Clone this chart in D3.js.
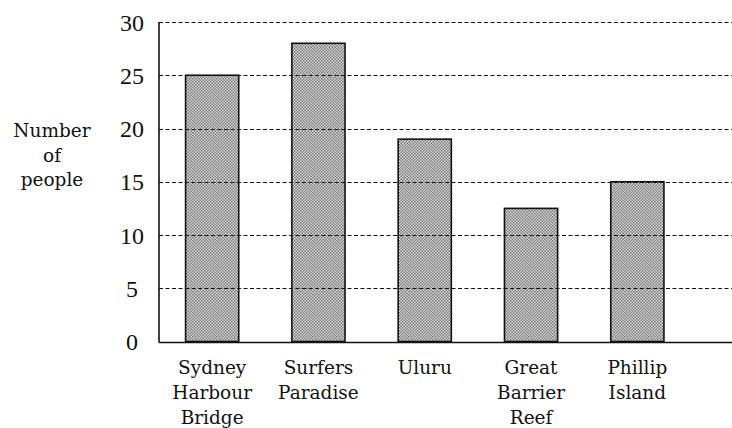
<!DOCTYPE html>
<html>
<head>
<meta charset="utf-8">
<script src="https://cdn.jsdelivr.net/npm/d3@7"></script>
<style>
  body { margin: 0; background: #fff; }
  svg { display: block; }
  .serif { font-family: "DejaVu Serif", "Liberation Serif", serif; }
  .tick-serif { font-family: "Liberation Serif", "DejaVu Serif", serif; }
</style>
</head>
<body>
<svg id="chart"></svg>
<script>
// values
var places = ["Sydney Harbour Bridge", "Surfers Paradise", "Uluru", "Great Barrier Reef", "Phillip Island"];
var placeLines = [["Sydney", "Harbour", "Bridge"], ["Surfers", "Paradise"], ["Uluru"], ["Great", "Barrier", "Reef"], ["Phillip", "Island"]];
var people = [25, 28, 19, 12.5, 15];
var yTicks = [0, 5, 10, 15, 20, 25, 30];
var yTitle = ["Number", "of", "people"];

var screen = { width: 732, height: 428 };
var margins = { top: 22, bottom: 86.5, left: 159, right: 0 };

var svg = d3.select("#chart")
  .attr("width", screen.width)
  .attr("height", screen.height);

// dotted grey fill like the print screen
var defs = svg.append("defs");
var pat = defs.append("pattern")
  .attr("id", "dots")
  .attr("width", 3).attr("height", 3)
  .attr("patternUnits", "userSpaceOnUse");
pat.append("rect").attr("width", 3).attr("height", 3).attr("fill", "#e2e2e2");
pat.append("rect").attr("width", 1.5).attr("height", 1.5).attr("fill", "#707070");
pat.append("rect").attr("x", 1.5).attr("y", 1.5).attr("width", 1.5).attr("height", 1.5).attr("fill", "#707070");

var xScale = d3.scaleBand()
  .domain(places)
  .range([margins.left, 690.5])
  .paddingInner(0.5)
  .paddingOuter(0.25);

var yScale = d3.scaleLinear()
  .domain([0, 30])
  .range([screen.height - margins.bottom, margins.top]);

// bars
svg.append("g").selectAll("rect")
  .data(people)
  .enter()
  .append("rect")
  .attr("x", function(d, i) { return xScale(places[i]); })
  .attr("y", function(d) { return yScale(d); })
  .attr("width", xScale.bandwidth())
  .attr("height", function(d) { return yScale(0) - yScale(d); })
  .attr("fill", "url(#dots)")
  .attr("stroke", "#111")
  .attr("stroke-width", 1.6);

// dashed grid lines, drawn over the bars
svg.append("g").selectAll("line")
  .data(yTicks.filter(function(t) { return t > 0; }))
  .enter()
  .append("line")
  .attr("x1", margins.left)
  .attr("x2", screen.width)
  .attr("y1", function(d) { return Math.round(yScale(d)) + 0.5; })
  .attr("y2", function(d) { return Math.round(yScale(d)) + 0.5; })
  .attr("stroke", "#111")
  .attr("stroke-width", 1.1)
  .attr("stroke-dasharray", "4,2.5");

// axes lines
var y0 = Math.round(yScale(0)) + 0.5;
svg.append("line")
  .attr("x1", margins.left).attr("x2", screen.width)
  .attr("y1", y0).attr("y2", y0)
  .attr("stroke", "#111").attr("stroke-width", 1.6);
svg.append("line")
  .attr("x1", margins.left).attr("x2", margins.left)
  .attr("y1", yScale(30)).attr("y2", y0)
  .attr("stroke", "#111").attr("stroke-width", 1.6);

// tick labels
svg.append("g").selectAll("text")
  .data(yTicks)
  .enter()
  .append("text")
  .attr("class", "tick-serif")
  .text(function(d) { return d; })
  .attr("x", 132)
  .attr("y", function(d) { return yScale(d); })
  .attr("dy", "0.36em")
  .attr("text-anchor", "middle")
  .attr("font-size", 24)
  .attr("fill", "#111");

// category labels
var catLabels = svg.append("g").selectAll("text")
  .data(places)
  .enter()
  .append("text")
  .attr("class", "serif")
  .attr("x", function(d) { return xScale(d) + xScale.bandwidth() / 2; })
  .attr("y", 374)
  .attr("text-anchor", "middle")
  .attr("font-size", 18.5)
  .attr("fill", "#111");
catLabels.selectAll("tspan")
  .data(function(d, i) { return placeLines[i]; })
  .enter()
  .append("tspan")
  .attr("x", function() { return d3.select(this.parentNode).attr("x"); })
  .attr("dy", function(d, i) { return i == 0 ? 0 : 25; })
  .text(function(d) { return d; });

// y title
svg.append("g").selectAll("text")
  .data(yTitle)
  .enter()
  .append("text")
  .attr("class", "serif")
  .text(function(d) { return d; })
  .attr("x", 52)
  .attr("y", function(d, i) { return 137 + i * 24.5; })
  .attr("text-anchor", "middle")
  .attr("font-size", 18.5)
  .attr("fill", "#111");
</script>
</body>
</html>
